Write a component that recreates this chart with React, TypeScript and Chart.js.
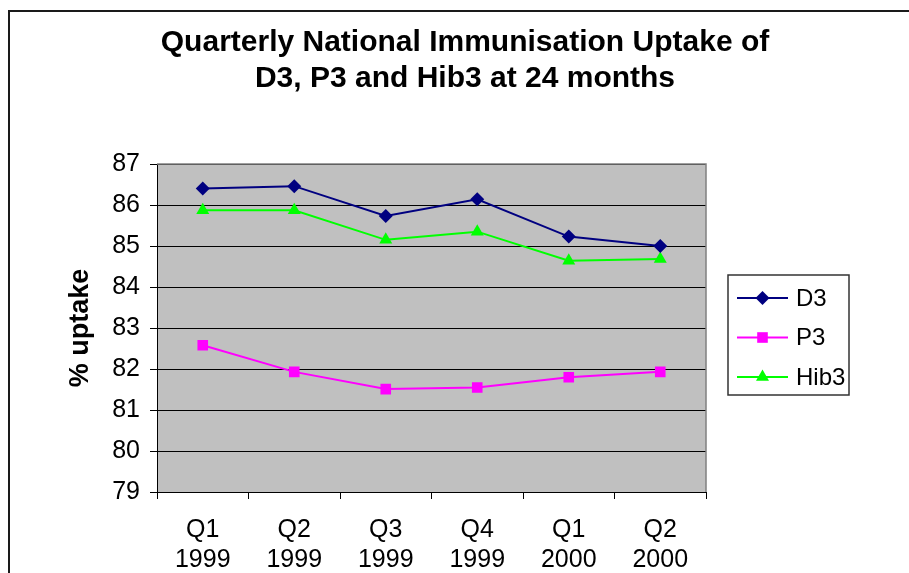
import React, { useEffect, useRef } from 'react';
import { Chart, registerables } from 'chart.js';

Chart.register(...registerables);

const categories: string[][] = [
  ['Q1', '1999'],
  ['Q2', '1999'],
  ['Q3', '1999'],
  ['Q4', '1999'],
  ['Q1', '2000'],
  ['Q2', '2000'],
];
const d3Values = [86.4, 86.46, 85.73, 86.14, 85.23, 85.0];
const p3Values = [82.58, 81.93, 81.51, 81.55, 81.8, 81.93];
const hib3Values = [85.87, 85.87, 85.15, 85.35, 84.64, 84.68];
const seriesNames = ['D3', 'P3', 'Hib3'];
const titleLines = ['Quarterly National Immunisation Uptake of', 'D3, P3 and Hib3 at 24 months'];
const yAxisTitle = '% uptake';
const yMin = 79;
const yMax = 87;
const yStep = 1;

const FONT = '"Liberation Sans", Arial, sans-serif';

function drawMarker(ctx: CanvasRenderingContext2D, style: string, x: number, y: number, r: number, color: string) {
  ctx.save();
  ctx.fillStyle = color;
  ctx.beginPath();
  if (style === 'rectRot') {
    ctx.moveTo(x, y - r);
    ctx.lineTo(x + r, y);
    ctx.lineTo(x, y + r);
    ctx.lineTo(x - r, y);
  } else if (style === 'rect') {
    const h = r * Math.SQRT1_2;
    ctx.rect(x - h, y - h, 2 * h, 2 * h);
  } else {
    const s = Math.sqrt(3) / 2 * r;
    ctx.moveTo(x, y - r);
    ctx.lineTo(x + s, y + r / 2);
    ctx.lineTo(x - s, y + r / 2);
  }
  ctx.closePath();
  ctx.fill();
  ctx.restore();
}

const decorPlugin = {
  id: 'decor',
  beforeDraw(chart: any) {
    const { ctx, chartArea, width, height } = chart;
    ctx.save();
    ctx.fillStyle = '#ffffff';
    ctx.fillRect(0, 0, width, height);
    // outer frame
    ctx.strokeStyle = '#1a1a1a';
    ctx.lineWidth = 2;
    ctx.beginPath();
    ctx.moveTo(9, height + 2);
    ctx.lineTo(9, 11);
    ctx.lineTo(width + 2, 11);
    ctx.stroke();
    // plot background
    ctx.fillStyle = '#c0c0c0';
    ctx.fillRect(chartArea.left, chartArea.top, chartArea.right - chartArea.left, chartArea.bottom - chartArea.top);
    ctx.restore();
  },
  beforeDatasetsDraw(chart: any) {
    const { ctx, chartArea } = chart;
    ctx.save();
    ctx.strokeStyle = '#808080';
    ctx.lineWidth = 1.5;
    ctx.beginPath();
    ctx.moveTo(chartArea.left, chartArea.top);
    ctx.lineTo(chartArea.right, chartArea.top);
    ctx.lineTo(chartArea.right, chartArea.bottom);
    ctx.stroke();
    ctx.restore();
  },
  afterDraw(chart: any) {
    const { ctx } = chart;
    ctx.save();
    // title
    ctx.fillStyle = '#000';
    ctx.textAlign = 'center';
    ctx.textBaseline = 'middle';
    ctx.font = `bold 30px ${FONT}`;
    titleLines.forEach((t, i) => ctx.fillText(t, 465, 43 + i * 36));
    // legend
    const bx = 728, by = 275, bw = 121, bh = 120;
    ctx.fillStyle = '#ffffff';
    ctx.fillRect(bx, by, bw, bh);
    ctx.strokeStyle = '#333';
    ctx.lineWidth = 1.5;
    ctx.strokeRect(bx, by, bw, bh);
    chart.data.datasets.forEach((ds: any, i: number) => {
      const y = 298 + i * 39.5;
      ctx.strokeStyle = ds.borderColor;
      ctx.lineWidth = 2;
      ctx.beginPath();
      ctx.moveTo(737, y);
      ctx.lineTo(788, y);
      ctx.stroke();
      drawMarker(ctx, ds.pointStyle, 762.5, y, ds.pointRadius, ds.backgroundColor);
      ctx.fillStyle = '#000';
      ctx.textAlign = 'left';
      ctx.textBaseline = 'middle';
      ctx.font = `24px ${FONT}`;
      ctx.fillText(ds.label, 796, y + 1);
    });
    ctx.restore();
  },
};

export default function App() {
  const ref = useRef<HTMLCanvasElement | null>(null);
  useEffect(() => {
    if (!ref.current) return;
    Chart.defaults.font.family = FONT;
    const chart = new Chart(ref.current, {
      type: 'line',
      data: {
        labels: categories,
        datasets: [
          {
            label: seriesNames[0],
            data: d3Values,
            borderColor: '#000080',
            backgroundColor: '#000080',
            pointStyle: 'rectRot',
            pointRadius: 7,
            pointBorderWidth: 0,
            borderWidth: 2,
            tension: 0,
          },
          {
            label: seriesNames[1],
            data: p3Values,
            borderColor: '#ff00ff',
            backgroundColor: '#ff00ff',
            pointStyle: 'rect',
            pointRadius: 7.5,
            pointBorderWidth: 0,
            borderWidth: 2,
            tension: 0,
          },
          {
            label: seriesNames[2],
            data: hib3Values,
            borderColor: '#00ff00',
            backgroundColor: '#00ff00',
            pointStyle: 'triangle',
            pointRadius: 7.5,
            pointBorderWidth: 0,
            borderWidth: 2,
            tension: 0,
          },
        ],
      } as any,
      options: {
        animation: false,
        responsive: false,
        devicePixelRatio: 1,
        layout: { padding: { left: 0, top: 164, right: 203, bottom: 0 } },
        plugins: {
          legend: { display: false },
          title: { display: false },
          tooltip: { enabled: false },
        },
        scales: {
          x: {
            offset: true,
            grid: { offset: true, drawOnChartArea: false, color: '#000', tickLength: 7 },
            border: { color: '#000', width: 1 },
            ticks: {
              color: '#000',
              font: { size: 25, lineHeight: 1.2 },
              padding: 16,
              maxRotation: 0,
              autoSkip: false,
            },
            afterFit: (s: any) => {
              s.height = 81;
            },
          },
          y: {
            min: yMin,
            max: yMax,
            ticks: { stepSize: yStep, color: '#000', font: { size: 25 }, padding: 10 },
            grid: { color: '#000', tickLength: 7 },
            border: { color: '#000', width: 1 },
            title: {
              display: true,
              text: yAxisTitle,
              color: '#000',
              font: { size: 27, weight: 'bold' },
              padding: { top: 64, bottom: 0 },
            },
            afterFit: (s: any) => {
              s.width = 157;
            },
          },
        },
      } as any,
      plugins: [decorPlugin],
    });
    return () => chart.destroy();
  }, []);
  return (
    <div style={{ position: 'fixed', left: 0, top: 0, width: 909, height: 573, background: '#fff' }}>
      <canvas ref={ref} width={909} height={573} style={{ display: 'block' }} />
    </div>
  );
}
